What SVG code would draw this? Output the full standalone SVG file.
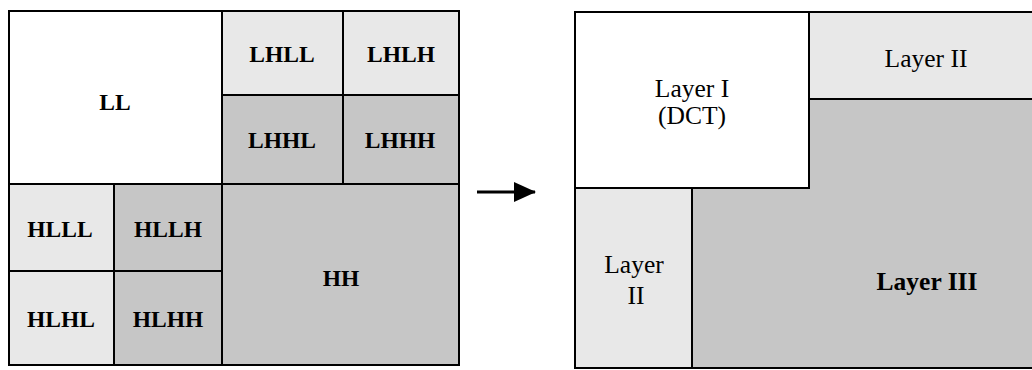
<svg xmlns="http://www.w3.org/2000/svg" width="1032" height="370" viewBox="0 0 1032 370">
<style>
.w{fill:#ffffff;stroke:#000;stroke-width:2}
.l{fill:#e8e8e8;stroke:#000;stroke-width:2}
.d{fill:#c6c6c6;stroke:#000;stroke-width:2}
.tb{font-family:"Liberation Serif",serif;font-weight:bold;font-size:23.5px;text-anchor:middle;fill:#000}
.tr{font-family:"Liberation Serif",serif;font-size:25.5px;text-anchor:middle;fill:#000}
</style>
<defs>
<marker id="ah" markerWidth="22" markerHeight="20" refX="21" refY="10" orient="auto" markerUnits="userSpaceOnUse">
<path d="M0,0 L22,10 L0,20 Z" fill="#000"/>
</marker>
</defs>
<g id="LL"><rect class="w" x="9" y="11" width="213" height="173"/><text class="tb" x="115" y="110">LL</text></g>
<g id="LHLL"><rect class="l" x="222" y="11" width="121" height="84"/><text class="tb" x="282" y="62">LHLL</text></g>
<g id="LHLH"><rect class="l" x="343" y="11" width="116" height="84"/><text class="tb" x="401" y="62">LHLH</text></g>
<g id="LHHL"><rect class="d" x="222" y="95" width="121" height="89"/><text class="tb" x="282" y="148">LHHL</text></g>
<g id="LHHH"><rect class="d" x="343" y="95" width="116" height="89"/><text class="tb" x="400" y="148">LHHH</text></g>
<g id="HLLL"><rect class="l" x="9" y="184" width="105" height="87"/><text class="tb" x="60" y="237">HLLL</text></g>
<g id="HLLH"><rect class="d" x="114" y="184" width="108" height="87"/><text class="tb" x="168" y="237">HLLH</text></g>
<g id="HLHL"><rect class="l" x="9" y="271" width="105" height="94"/><text class="tb" x="61" y="327">HLHL</text></g>
<g id="HLHH"><rect class="d" x="114" y="271" width="108" height="94"/><text class="tb" x="168" y="327">HLHH</text></g>
<g id="HH"><rect class="d" x="222" y="184" width="237" height="181"/><text class="tb" x="341" y="286">HH</text></g>
<g id="connectors"><line x1="477" y1="192" x2="535" y2="192" stroke="#000" stroke-width="3" marker-end="url(#ah)"/></g>
<g id="LayerIII"><path class="d" d="M809,99 H1040 V368 H692 V188 H809 Z"/><text class="tr" x="927" y="290" font-weight="bold" font-size="24px">Layer III</text></g>
<g id="LayerI"><rect class="w" x="575" y="12" width="234" height="176"/><text class="tr" x="692" y="97">Layer I</text><text class="tr" x="692" y="124">(DCT)</text></g>
<g id="LayerII_top"><rect class="l" x="809" y="12" width="231" height="87"/><text class="tr" x="926" y="67">Layer II</text></g>
<g id="LayerII_left"><rect class="l" x="575" y="188" width="117" height="180"/><text class="tr" x="634" y="273">Layer</text><text class="tr" x="636" y="304">II</text></g>
</svg>
